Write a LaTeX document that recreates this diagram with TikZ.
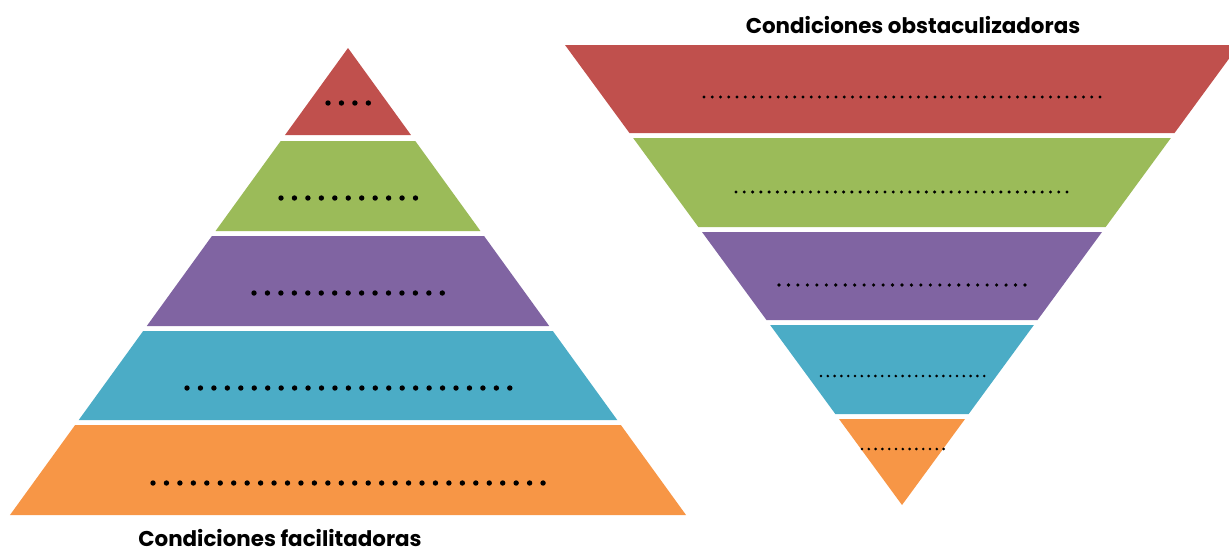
\documentclass[tikz,border=0pt]{standalone}
\usepackage{fontspec}
\newfontfamily\gothic{Poppins}
\definecolor{layerred}{HTML}{C0504D}
\definecolor{layergreen}{HTML}{9BBB59}
\definecolor{layerpurple}{HTML}{8064A2}
\definecolor{layerteal}{HTML}{4BACC6}
\definecolor{layerorange}{HTML}{F79646}
\begin{document}
\begin{tikzpicture}[x=0.5pt,y=-0.5pt,every node/.style={font=\gothic\bfseries\fontsize{10.7}{12}\selectfont}]
   \useasboundingbox (0,0) rectangle (1229,553);
   \clip (0,0) rectangle (1229,553);
   % facilitadoras (apex up)
   \foreach \t/\b/\c in {48/135/layerred,141/231/layergreen,236/326/layerpurple,331/420/layerteal,425/515/layerorange}
     \fill [\c] ({348-0.7238*(\t-48)},\t) -- ({348+0.7238*(\t-48)},\t) -- ({348+0.7238*(\b-48)},\b) -- ({348-0.7238*(\b-48)},\b) -- cycle;
   \foreach \xs/\n/\y in {328/3/103,281/10/198,254/14/293,187/24/388,153/29/483}
     \foreach \i in {0,...,\n} \fill ({\xs+13.45*\i},\y) circle (1.35pt);
   \node [anchor=base,inner sep=0pt] (facil) at (280,546) {Condiciones facilitadoras};
   % obstaculizadoras (apex down)
   \foreach \t/\b/\c in {45/133/layerred,138/227/layergreen,232/320/layerpurple,325/414/layerteal,419/505/layerorange}
     \fill [\c] ({902-0.7326*(505-\t)},\t) -- ({902+0.7326*(505-\t)},\t) -- ({902+0.7326*(505-\b)},\b) -- ({902-0.7326*(505-\b)},\b) -- cycle;
   \foreach \xs/\n/\s/\y/\r in {704/48/8.25/97/0.85,736/40/8.275/192/0.85,779/26/9.46/285/0.9,821/24/6.8/376/0.72,862/12/6.8/449/0.72}
     \foreach \i in {0,...,\n} \fill ({\xs+\s*\i},\y) circle (\r pt);
   \node [anchor=base,inner sep=0pt] (obst) at (913,33) {Condiciones obstaculizadoras};
\end{tikzpicture}
\end{document}
